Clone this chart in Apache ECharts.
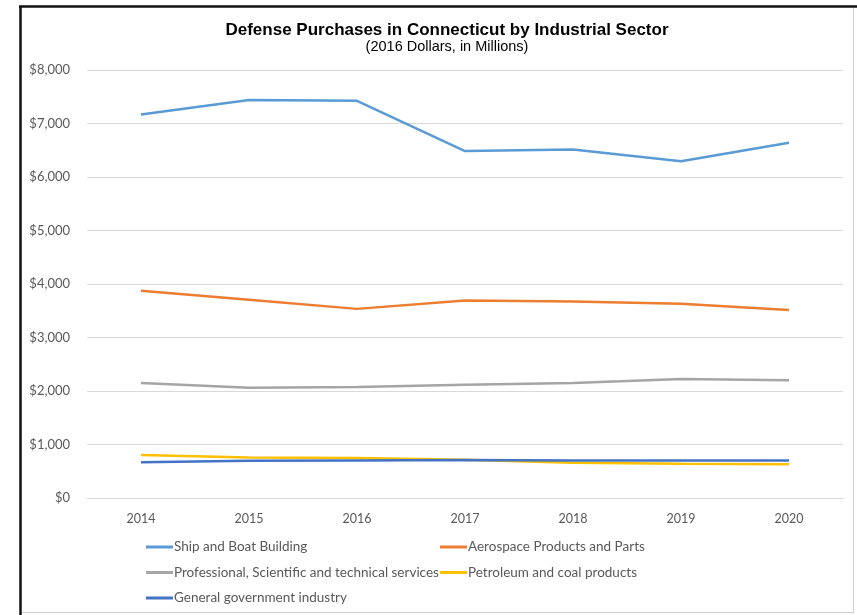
<!DOCTYPE html>
<html>
<head>
<meta charset="utf-8">
<script src="https://cdn.jsdelivr.net/npm/echarts@6/dist/echarts.min.js"></script>
<style>
  html, body { margin: 0; padding: 0; background: #fff; }
  #chart { width: 857px; height: 615px; }
</style>
</head>
<body>
<div id="chart"></div>
<script>
// Years on the horizontal axis
const years = ['2014', '2015', '2016', '2017', '2018', '2019', '2020'];

// Defense purchases by sector, 2016 dollars in millions
const shipBoat = [7170, 7440, 7425, 6485, 6515, 6295, 6640];
const aerospace = [3875, 3705, 3535, 3690, 3675, 3630, 3515];
const professional = [2150, 2060, 2075, 2115, 2150, 2225, 2200];
const petroleum = [806, 755, 748, 713, 657, 638, 633];
const government = [670, 695, 702, 708, 702, 702, 702];

// Value axis ticks
const yMin = 0, yMax = 8000, yStep = 1000;

const seriesDefs = [
  { name: 'Ship and Boat Building', data: shipBoat, color: '#5B9BD5' },
  { name: 'Aerospace Products and Parts', data: aerospace, color: '#ED7D31' },
  { name: 'Professional, Scientific and technical services', data: professional, color: '#A5A5A5' },
  { name: 'Petroleum and coal products', data: petroleum, color: '#FFC000' },
  { name: 'General government industry', data: government, color: '#4472C4' }
];

const labelFont = 'Lato, "Open Sans", sans-serif';

const legendCommon = {
  orient: 'vertical',
  icon: 'rect',
  itemWidth: 27,
  itemHeight: 3,
  itemGap: 11.5,
  textStyle: { color: '#595959', fontSize: 13.5, fontFamily: labelFont, padding: [0, 0, 0, -4] },
  padding: 0
};

const chart = echarts.init(document.getElementById('chart'), null, { renderer: 'canvas' });

chart.setOption({
  backgroundColor: '#ffffff',
  animation: false,
  grid: { left: 87, right: 14, top: 70, bottom: 117, containLabel: false },
  xAxis: {
    type: 'category',
    data: years,
    boundaryGap: true,
    axisLine: { show: true, lineStyle: { color: '#D9D9D9', width: 1 } },
    axisTick: { show: false },
    axisLabel: { color: '#595959', fontSize: 12.5, fontFamily: labelFont, margin: 14 }
  },
  yAxis: {
    type: 'value',
    min: yMin,
    max: yMax,
    interval: yStep,
    axisLine: { show: false },
    axisTick: { show: false },
    splitLine: { lineStyle: { color: '#D9D9D9', width: 1 } },
    axisLabel: {
      color: '#595959', fontSize: 13, fontFamily: labelFont, margin: 17,
      formatter: v => '$' + v.toLocaleString('en-US')
    }
  },
  legend: [
    Object.assign({}, legendCommon, {
      left: 146, top: 540,
      data: [seriesDefs[0].name, seriesDefs[2].name, seriesDefs[4].name]
    }),
    Object.assign({}, legendCommon, {
      left: 440, top: 540,
      data: [seriesDefs[1].name, seriesDefs[3].name]
    })
  ],
  series: seriesDefs.map(s => ({
    name: s.name,
    type: 'line',
    data: s.data,
    symbol: 'none',
    color: s.color,
    lineStyle: { color: s.color, width: 2.5 }
  })),
  graphic: [
    // frame around the chart area
    { type: 'line', shape: { x1: 20.5, y1: 6, x2: 20.5, y2: 615 }, style: { stroke: '#111', lineWidth: 2.5 } },
    { type: 'line', shape: { x1: 19, y1: 6.5, x2: 857, y2: 6.5 }, style: { stroke: '#111', lineWidth: 2.5 } },
    { type: 'line', shape: { x1: 853.5, y1: 8, x2: 853.5, y2: 612 }, style: { stroke: '#D0D0D0', lineWidth: 1 } },
    { type: 'line', shape: { x1: 22, y1: 612.5, x2: 854, y2: 612.5 }, style: { stroke: '#D0D0D0', lineWidth: 1 } },
    // title and subtitle
    {
      type: 'text', x: 447, y: 30,
      style: {
        text: 'Defense Purchases in Connecticut by Industrial Sector',
        fill: '#000', font: 'bold 17px "Liberation Sans", Arial, sans-serif',
        textAlign: 'center', textVerticalAlign: 'middle'
      }
    },
    {
      type: 'text', x: 447, y: 46.5,
      style: {
        text: '(2016 Dollars, in Millions)',
        fill: '#000', font: '14.5px "Liberation Sans", Arial, sans-serif',
        textAlign: 'center', textVerticalAlign: 'middle'
      }
    }
  ]
});
</script>
</body>
</html>
